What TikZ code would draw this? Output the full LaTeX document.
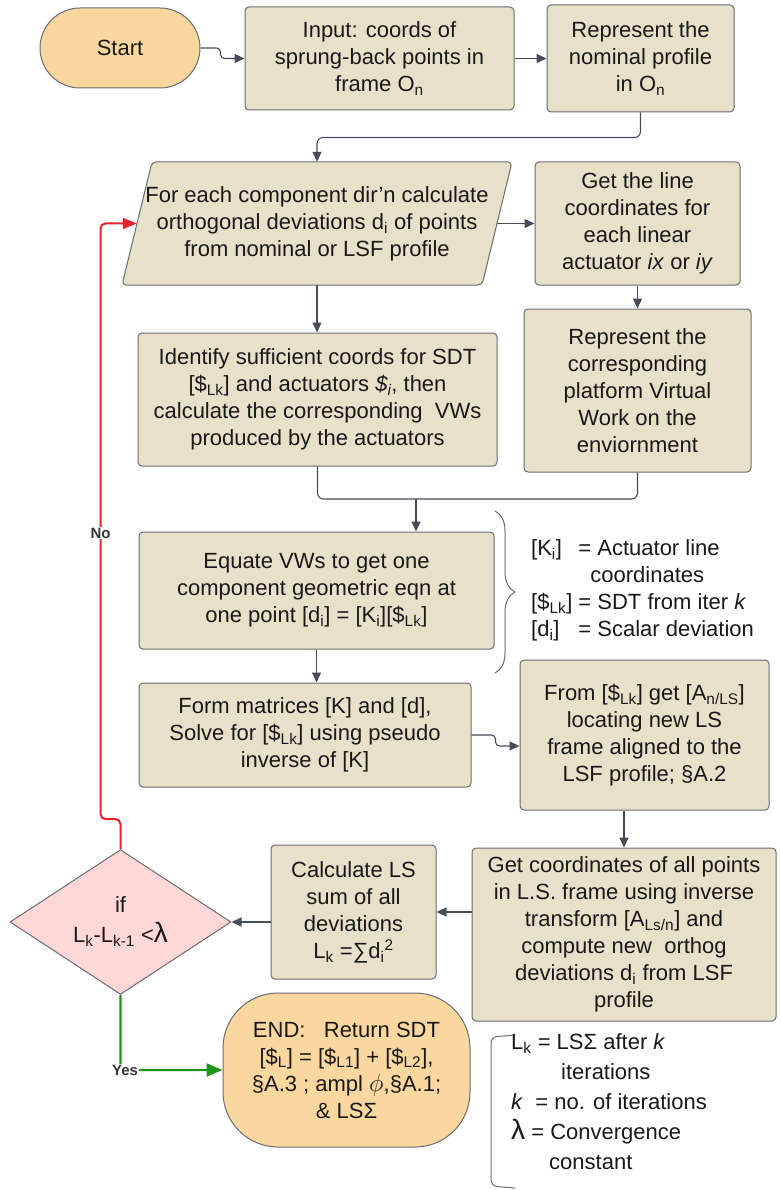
\documentclass[tikz,border=0pt]{standalone}
\usepackage{fontspec}
\setmainfont{Liberation Sans}
\usetikzlibrary{shapes.geometric,shapes.misc,arrows.meta,calc,decorations.pathreplacing}
\definecolor{boxfill}{RGB}{230,225,200}
\definecolor{bordercol}{RGB}{105,108,112}
\definecolor{termfill}{RGB}{251,215,160}
\definecolor{diafill}{RGB}{255,215,215}
\definecolor{arrcol}{RGB}{70,76,88}
\definecolor{redcol}{RGB}{232,34,42}
\definecolor{greencol}{RGB}{30,150,30}
\definecolor{textcol}{RGB}{25,25,25}
\definecolor{lblcol}{RGB}{55,55,55}
\definecolor{bracecol}{RGB}{110,110,110}
\begin{document}
\begin{tikzpicture}[x=1pt,y=-1pt,
  txt/.style={font=\fontsize{22}{27}\selectfont, text=textcol},
  proc/.style={draw=bordercol, line width=1pt, fill=boxfill, rounded corners=4pt, align=center, txt, inner sep=2pt},
  termbox/.style={draw=bordercol, line width=1pt, fill=termfill, align=center, txt, inner sep=2pt},
  decbox/.style={draw=bordercol, line width=1pt, fill=diafill, diamond, align=center, inner sep=0pt, font=\fontsize{22}{30}\selectfont, text=textcol},
  arr/.style={draw=arrcol, line width=1.1pt, -{Triangle[length=10pt,width=9pt]}},
  plainline/.style={draw=arrcol, line width=1.1pt},
  noarr/.style={draw=redcol, line width=2pt, -{Triangle[length=14pt,width=11pt]}},
  yesarr/.style={draw=greencol, line width=2.2pt, -{Triangle[length=16pt,width=13pt]}},
  lbl/.style={font=\bfseries\fontsize{15}{17}\selectfont, text=lblcol, fill=white, inner sep=1pt},
  leg/.style={txt, align=left, inner sep=0pt},
  bracestyle/.style={draw=bracecol, line width=1pt}
]
\fill[white] (0,0) rectangle (779,1190);
\useasboundingbox (0,0) rectangle (779,1190);

% nodes
\node[termbox, rounded rectangle, minimum width=164pt, minimum height=80pt] (start) at (120,48) {Start};
\node[proc, minimum width=269pt, minimum height=103pt] (input) at (379.5,58.5) {Input: coords of\\sprung-back points in\\frame O\textsubscript{n}};
\node[proc, minimum width=187pt, minimum height=107pt] (repnom) at (640.5,58.5) {Represent the\\nominal profile\\in O\textsubscript{n}};

\draw[draw=bordercol, line width=1pt, fill=boxfill, rounded corners=4pt] (152,162) -- (512,162) -- (482,285) -- (122,285) -- cycle;
\node[txt, align=center, minimum width=360pt, minimum height=123pt, inner sep=0pt] (para) at (317,223.5) {For each component dir'n calculate\\orthogonal deviations d\textsubscript{i} of points\\from nominal or LSF profile};

\node[proc, minimum width=205pt, minimum height=123pt] (getline) at (637.5,223.5) {Get the line\\coordinates for\\each linear\\actuator \textit{ix} or \textit{iy}};
\node[proc, minimum width=359pt, minimum height=133pt] (identify) at (317.5,399.5) {Identify sufficient coords for SDT\\{[}\$\textsubscript{Lk}] and actuators \textit{\$\textsubscript{i}}, then\\calculate the corresponding~ VWs\\produced by the actuators};
\node[proc, minimum width=227pt, minimum height=163pt] (repcorr) at (637.5,390.5) {Represent the\\corresponding\\platform Virtual\\Work on the\\enviornment};
\coordinate (merge) at (416,499);
\node[proc, minimum width=355pt, minimum height=117pt] (equate) at (316.5,590.5) {Equate VWs to get one\\component geometric eqn at\\one point [d\textsubscript{i}] = [K\textsubscript{i}][\$\textsubscript{Lk}]};
\node[proc, minimum width=332pt, minimum height=104pt] (form) at (305,735) {Form matrices [K] and [d],\\Solve for [\$\textsubscript{Lk}] using pseudo\\inverse of [K]};
\node[proc, minimum width=249pt, minimum height=150pt] (from) at (644.5,735) {From [\$\textsubscript{Lk}] get [A\textsubscript{n/LS}]\\locating new LS\\frame aligned to the\\LSF profile; §A.2};
\node[proc, minimum width=304pt, minimum height=173pt] (getcoords) at (624,934.5) {Get coordinates of all points\\in L.S. frame using inverse\\transform [A\textsubscript{Ls/n}] and\\compute new~ orthog\\deviations d\textsubscript{i} from LSF\\profile};
\node[proc, minimum width=165pt, minimum height=134pt] (calc) at (353.5,912) {Calculate LS\\sum of all\\deviations\\L\textsubscript{k} =∑d\textsubscript{i}\textsuperscript{2}};
\node[decbox, minimum width=221pt, minimum height=120pt] (dec) at (120.5,922) {if\\L\textsubscript{k}-L\textsubscript{k-1} <{\fontsize{28}{30}\selectfont λ}};
\node[termbox, rounded corners=55pt, minimum width=247pt, minimum height=154pt] (end) at (346.5,1070) {END:~~ Return SDT\\{[}\$\textsubscript{L}] = [\$\textsubscript{L1}] + [\$\textsubscript{L2}],\\§A.3 ; ampl {\fontsize{30}{27}\selectfont$\phi$},§A.1;\\\& LSΣ};

% connectors
\draw[arr, rounded corners=4pt] (start.east) -- ++(20,0) |- (input.west);
\draw[arr] (input.east) -- (repnom.west);
\draw[arr, rounded corners=6pt] (repnom.south) -- ++(0,25) -| (para.north);
\draw[arr] (para.east) -- (getline.west);
\draw[arr] (para.south) -- (para.south |- identify.north);
\draw[arr] (getline.south) -- (repcorr.north);
\draw[plainline, rounded corners=6pt] (identify.south) |- (merge);
\draw[plainline, rounded corners=6pt] (repcorr.south) |- (merge);
\draw[arr] (merge) -- (merge |- equate.north);
\draw[arr] (equate.south) -- (equate.south |- form.north);
\draw[arr, rounded corners=4pt] (form.east) -- ++(24,0) |- ($(from.west)+(0,11)$);
\draw[arr] (from.south -| getcoords.north) -- (getcoords.north);
\draw[arr] (getcoords.west |- calc.east) -- (calc.east);
\draw[arr] (calc.west |- dec.east) -- (dec.east);
\draw[noarr, rounded corners=5pt] (dec.north) -- ++(0,-30) -- ++(-20,0) |- (para.west);
\draw[yesarr, rounded corners=5pt] (dec.south) |- (end.west);
\node[lbl] (nolbl) at (100.5,533) {No};
\node[lbl] (yeslbl) at (125,1070) {Yes};

% legend 1
\draw[bracestyle, decorate, decoration={brace, amplitude=20pt}] (495,511) -- (495,673);
\node[leg, anchor=north west] (leg1) at (531,536) {\begin{tabular}{@{}l@{\hspace{6pt}}l@{}}
{[}K\textsubscript{i}] & = Actuator line\\
 & \hspace*{12pt}coordinates\\
{[}\$\textsubscript{Lk}] & = SDT from iter \textit{k}\\
{[}d\textsubscript{i}] & = Scalar deviation
\end{tabular}};

% legend 2
\draw[bracestyle, rounded corners=6pt] (515,1035) -- (491,1037) -- (491,1186) -- (515,1188);
\node[leg, anchor=north west, font=\fontsize{22}{30}\selectfont] (leg2) at (511,1028) {\begin{tabular}{@{}l@{}}
L\textsubscript{k} = LSΣ after \textit{k}\\
\hspace*{50pt}iterations\\
\textit{k}~ = no. of iterations\\
{\fontsize{28}{30}\selectfont λ} = Convergence\\
\hspace*{38pt}constant
\end{tabular}};
\end{tikzpicture}
\end{document}
